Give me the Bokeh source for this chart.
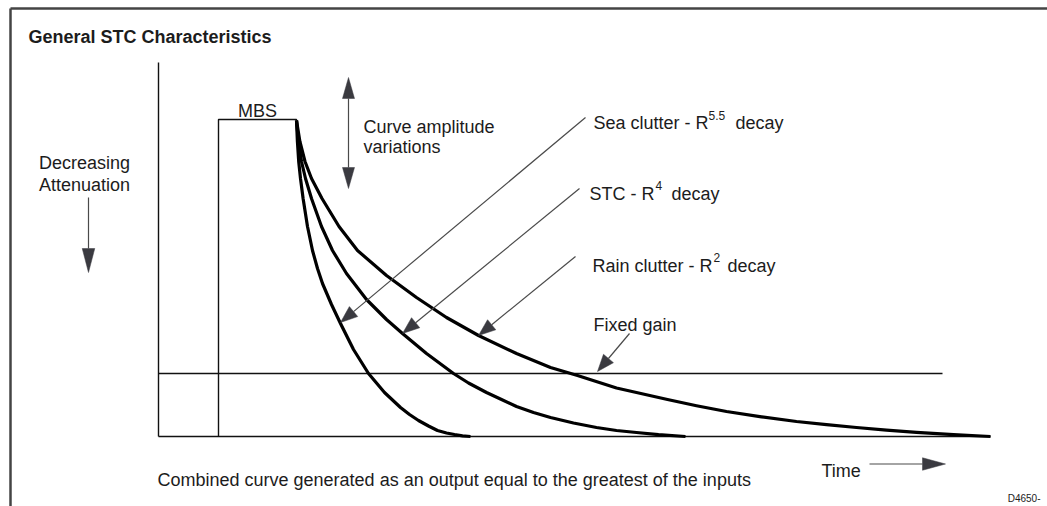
import numpy as np
from bokeh.plotting import figure
from bokeh.models import Range1d
from bokeh.embed import file_html
from bokeh.resources import INLINE
from bokeh.core.properties import value

# ---------------- data (time t along the time axis, level L = decreasing attenuation) -------------
sea_t = [138, 138.9, 140.2, 142, 144.6, 149, 154, 159, 164, 173, 182, 195, 210, 226, 242, 251, 260, 270, 279, 288, 296, 304, 312]
sea_l = [316, 295, 275, 258, 238, 210, 186, 168, 153, 132, 113, 87, 63, 44, 29, 22, 16, 10.5, 6, 3.5, 2, 0.7, 0]

stc_t = [138, 140, 143, 147, 153, 163, 174, 188, 208, 228, 244, 268, 295, 310, 328, 343, 358, 375, 392, 415, 438, 458, 478, 500, 527]
stc_l = [316, 295, 275, 258, 238, 210, 186, 163, 137, 117, 103, 83, 63, 53.5, 44, 37, 30, 24, 19, 13.5, 9, 6, 4, 1.8, 0]

rain_t = [138, 141.4, 146.5, 153, 163.5, 180.5, 199, 228, 258, 288, 320, 358, 392, 419, 458, 509, 538,
          568, 603, 638, 668, 698, 728, 758, 795, 832]
rain_l = [316, 295, 275, 258, 238, 210, 186, 161, 139, 119, 101, 83, 69, 61, 48.5, 37, 30.8,
          25, 19.7, 15, 11.8, 9, 6.4, 4.2, 1.8, 0]

mbs_t = [60, 60, 138, 138]
mbs_l = [0, 317, 317, 316]

fixed_gain_t = [0, 784]
fixed_gain_l = [63, 63]

time_axis_t = [0, 832]
level_axis_l = [0, 374]

# arrows: (t_start, L_start, t_tip, L_tip)
pointer_arrows = [
    (427, 319, 182, 114),   # sea clutter
    (421, 248, 244, 103),   # STC
    (417, 180, 320, 101),   # rain clutter
    (471, 103, 439, 65),    # fixed gain
]
amplitude_arrow = (190, 359, 190, 248)
attenuation_arrow = (-70, 239, -70, 164)
time_arrow = (711, -27.5, 787, -27.5)

# labels: text, t, L, size, bold, align
labels = [
    ("General STC Characteristics", -130, 400, 18, True, "left"),
    ("MBS", 99, 326, 18, False, "center"),
    ("Curve amplitude", 205, 309.5, 18, False, "left"),
    ("variations", 205, 289.5, 18, False, "left"),
    ("Decreasing", -74, 273.5, 18, False, "center"),
    ("Attenuation", -74, 252, 18, False, "center"),
    ("Sea clutter - R", 435, 314, 18, False, "left"),
    ("5.5", 550, 321, 12, False, "left"),
    ("decay", 577, 314, 18, False, "left"),
    ("STC - R", 431, 243, 18, False, "left"),
    ("4", 497, 251.5, 12, False, "left"),
    ("decay", 513, 243, 18, False, "left"),
    ("Rain clutter - R", 434, 171, 18, False, "left"),
    ("2", 555, 179, 12, False, "left"),
    ("decay", 569, 171, 18, False, "left"),
    ("Fixed gain", 435, 112, 18, False, "left"),
    ("Combined curve generated as an output equal to the greatest of the inputs", -1, -43, 18, False, "left"),
    ("Time", 663, -34.5, 18, False, "left"),
    ("D4650-", 882, -62, 10, False, "right"),
]

FONT = "Liberation Sans"
TEXT_COLOR = "#1c1c1c"
HEAD_COLOR = "#3a3a40"
LINE_GREY = "#4a4a4a"

p = figure(width=1047, height=506, output_backend="svg", toolbar_location=None,
           x_axis_type=None, y_axis_type=None,
           x_range=Range1d(-158, 889), y_range=Range1d(-70, 436),
           min_border=0, outline_line_color=None, background_fill_color="white")
p.grid.visible = False

# frame
p.line([-148, 889], [428, 428], line_color="#444444", line_width=2.5)
p.line([-148, -148], [428, -70], line_color="#444444", line_width=2.5)

# axes
p.line([0, 0], level_axis_l, line_color="#111111", line_width=1.4)
p.line(time_axis_t, [0, 0], line_color="#111111", line_width=1.4)

# MBS block
p.line(mbs_t, mbs_l, line_color="#111111", line_width=1.4)

# fixed gain
p.line(fixed_gain_t, fixed_gain_l, line_color="#111111", line_width=1.3)

# decay curves
for tt, ll in [(sea_t, sea_l), (stc_t, stc_l), (rain_t, rain_l)]:
    p.line(tt, ll, line_color="black", line_width=3.2, line_join="round", line_cap="butt")


def head(x0, y0, x1, y1, length, width):
    d = np.array([x1 - x0, y1 - y0], dtype=float)
    d /= np.hypot(*d)
    perp = np.array([-d[1], d[0]])
    tip = np.array([x1, y1], dtype=float)
    base = tip - d * length
    a = base + perp * width / 2
    b = base - perp * width / 2
    return [tip[0], a[0], b[0]], [tip[1], a[1], b[1]], base


seg_x0, seg_y0, seg_x1, seg_y1 = [], [], [], []
hx, hy = [], []

for (x0, y0, x1, y1) in pointer_arrows:
    xs, ys, base = head(x0, y0, x1, y1, 17, 13)
    hx.append(xs); hy.append(ys)
    seg_x0.append(x0); seg_y0.append(y0); seg_x1.append(base[0]); seg_y1.append(base[1])

# double amplitude arrow
x0, y0, x1, y1 = amplitude_arrow
xs, ys, b1 = head(x0, y0, x1, y1, 21, 12)
hx.append(xs); hy.append(ys)
xs, ys, b2 = head(x1, y1, x0, y0, 21, 12)
hx.append(xs); hy.append(ys)
seg_x0.append(b2[0]); seg_y0.append(b2[1]); seg_x1.append(b1[0]); seg_y1.append(b1[1])

for (x0, y0, x1, y1), hl in [(attenuation_arrow, 24), (time_arrow, 23)]:
    xs, ys, base = head(x0, y0, x1, y1, hl, 12.5)
    hx.append(xs); hy.append(ys)
    seg_x0.append(x0); seg_y0.append(y0); seg_x1.append(base[0]); seg_y1.append(base[1])

p.segment(seg_x0, seg_y0, seg_x1, seg_y1, line_color=LINE_GREY, line_width=1.2)
p.patches(hx, hy, fill_color=HEAD_COLOR, line_color=HEAD_COLOR, line_width=0.5)

for txt, tx, ty, size, bold, align in labels:
    p.text(x=[tx], y=[ty], text=[txt], text_font=value(FONT), text_font_size=f"{size}px",
           text_font_style="bold" if bold else "normal", text_color=TEXT_COLOR,
           text_align=align, text_baseline="alphabetic")

open("out.html", "w").write(file_html(p, INLINE))
